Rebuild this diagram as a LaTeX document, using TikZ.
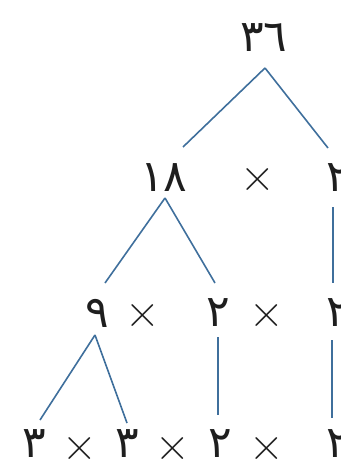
\documentclass[tikz,border=0pt]{standalone}
\usepackage{fontspec}
\newfontfamily\arabicfont[Script=Arabic]{DejaVu Sans}
\definecolor{treeblue}{HTML}{3F6F9C}
\definecolor{ink}{HTML}{1E1E1E}
\tikzset{
  num/.style={inner sep=0pt, text=ink, font=\arabicfont\fontsize{44}{48}\selectfont},
  op/.style={inner sep=0pt, text=ink, font=\fontsize{48}{52}\selectfont},
  branch/.style={draw=treeblue, line width=1.6pt}
}
\begin{document}
\begin{tikzpicture}[x=1pt,y=-1pt]
\useasboundingbox (0,0) rectangle (340,468);
% row 1
\node[num] (a) at (264,38) {٣٦};
% row 2
\node[num] (b1) at (164,178) {١٨};
\node[op]  (bx) at (258,180) {×};
\node[num] (b2) at (338,178) {٢};
% row 3
\node[num] (c1) at (97,313) {٩};
\node[op]  (cx1) at (143,316) {×};
\node[num] (c2) at (218,313) {٢};
\node[op]  (cx2) at (267,316) {×};
\node[num] (c3) at (338,313) {٢};
% row 4
\node[num] (d1) at (34,444) {٣};
\node[op]  (dx1) at (80,449) {×};
\node[num] (d2) at (127,444) {٣};
\node[op]  (dx2) at (173,449) {×};
\node[num] (d3) at (220,444) {٢};
\node[op]  (dx3) at (267,449) {×};
\node[num] (d4) at (338,444) {٢};
% branches
\draw[branch] ([shift={(1,30)}]a.center) -- ([shift={(19,-31)}]b1.center);
\draw[branch] ([shift={(1,30)}]a.center) -- ([shift={(-10,-30)}]b2.center);
\draw[branch] ([shift={(-5,29)}]b2.center) -- ([shift={(-5,-30)}]c3.center);
\draw[branch] ([shift={(1,20)}]b1.center) -- ([shift={(8,-30)}]c1.center);
\draw[branch] ([shift={(1,20)}]b1.center) -- ([shift={(-3,-30)}]c2.center);
\draw[branch] ([shift={(-2,22)}]c1.center) -- ([shift={(6,-24)}]d1.center);
\draw[branch] ([shift={(-2,22)}]c1.center) -- ([shift={(0,-21)}]d2.center);
\draw[branch] ([shift={(0,24)}]c2.center) -- ([shift={(-2,-29)}]d3.center);
\draw[branch] ([shift={(-6,27)}]c3.center) -- ([shift={(-6,-26)}]d4.center);
\end{tikzpicture}
\end{document}
